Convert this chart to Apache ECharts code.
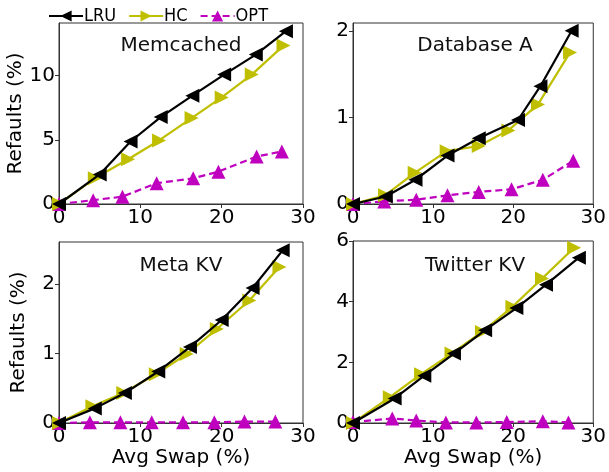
<!DOCTYPE html>
<html><head><meta charset="utf-8">
<script src="https://cdn.jsdelivr.net/npm/echarts@6/dist/echarts.min.js"></script>
<style>html,body{margin:0;padding:0;background:#fff}#c{width:609px;height:472px}</style>
</head><body><div id="c"></div>
<script>
const panels = ["Memcached", "Database A", "Meta KV", "Twitter KV"];
const seriesNames = ["LRU", "HC", "OPT"];
const xTicks = [0, 10, 20, 30];

// Memcached
const memLRU = [[0,0],[5.0,2.3],[8.8,4.87],[12.5,6.77],[16.4,8.44],[20.3,10.08],[24.2,11.64],[27.9,13.46]];
const memHC  = [[0,0],[4.4,2.0],[8.5,3.49],[12.3,4.95],[16.3,6.69],[20.0,8.3],[23.7,10.08],[27.6,12.34]];
const memOPT = [[0,0],[4.2,0.3],[7.8,0.57],[12.0,1.62],[16.5,2.0],[19.6,2.52],[24.3,3.7],[27.4,4.09]];
// Database A
const dbLRU = [[0,0],[4.1,0.087],[7.8,0.28],[11.8,0.56],[15.7,0.76],[20.6,0.97],[23.4,1.36],[27.3,2.0]];
const dbHC  = [[0,0],[4.0,0.1],[7.7,0.36],[11.7,0.61],[15.7,0.67],[19.4,0.85],[23.1,1.15],[27.1,1.75]];
const dbOPT = [[0,0],[3.9,0.03],[7.9,0.05],[11.8,0.1],[15.7,0.14],[19.8,0.17],[23.7,0.28],[27.5,0.5]];
// Meta KV
const metaLRU = [[0,0],[4.4,0.21],[8.1,0.43],[12.2,0.74],[16.1,1.09],[20.0,1.48],[23.8,1.94],[27.5,2.48]];
const metaHC  = [[0,0],[4.1,0.24],[7.9,0.43],[11.9,0.70],[15.7,0.99],[19.4,1.35],[23.4,1.76],[27.1,2.24]];
const metaOPT = [[0,0],[3.8,0.01],[7.55,0.01],[11.4,0.01],[15.25,0.01],[19.1,0.01],[22.8,0.02],[26.6,0.02]];
// Twitter KV
const twLRU = [[0,0],[5.2,0.81],[8.9,1.56],[12.6,2.29],[16.5,3.06],[20.4,3.79],[24.1,4.56],[28.2,5.45]];
const twHC  = [[0,0],[4.6,0.85],[8.5,1.61],[12.3,2.29],[16.1,3.0],[19.9,3.83],[23.6,4.76],[27.6,5.78]];
const twOPT = [[0,0.03],[4.9,0.15],[7.9,0.08],[11.6,0.02],[15.4,0.02],[19.2,0.03],[23.7,0.06],[26.9,0.02]];

const yMax = [14.1, 2.09, 2.6, 6.0];
const yInterval = [5, 1, 1, 2];
const allData = [[memLRU,memHC,memOPT],[dbLRU,dbHC,dbOPT],[metaLRU,metaHC,metaOPT],[twLRU,twHC,twOPT]];

const grids = [
  {left:59, top:23, width:244, height:181},
  {left:353, top:23, width:244, height:181},
  {left:59, top:242, width:244, height:181},
  {left:353, top:241, width:244, height:182}
];
const titlePos = [[181,48],[475,48],[181,268],[475,268]];
const font = 'DejaVu Sans';
const styles = [
  {color:'#000000', rot:90, dash:'solid'},
  {color:'#bfbf00', rot:-90, dash:'solid'},
  {color:'#bf00bf', rot:0, dash:[7,4]}
];

const xAxes = [], yAxes = [], series = [], titles = [];
for (let i = 0; i < 4; i++) {
  const bottomRow = i >= 2, leftCol = i % 2 === 0;
  xAxes.push({
    type:'value', gridIndex:i, min:0, max:30, interval:10,
    name: bottomRow ? 'Avg Swap (%)' : '', nameLocation:'middle', nameGap:24,
    nameTextStyle:{fontFamily:font, fontSize:20, color:'#000'},
    axisLine:{show:true, onZero:false, lineStyle:{color:'#333', width:1}},
    axisTick:{show:true, length:4, lineStyle:{color:'#333'}},
    axisLabel:{fontFamily:font, fontSize:20, color:'#000', margin:4, showMaxLabel:true, showMinLabel:true},
    splitLine:{show:false}
  });
  yAxes.push({
    type:'value', gridIndex:i, min:0, max:yMax[i], interval:yInterval[i],
    name: leftCol ? 'Refaults (%)' : '', nameLocation:'middle', nameGap:30,
    nameTextStyle:{fontFamily:font, fontSize:20, color:'#000'},
    axisLine:{show:true, onZero:false, lineStyle:{color:'#333', width:1}},
    axisTick:{show:true, length:4, lineStyle:{color:'#333'}},
    axisLabel:{fontFamily:font, fontSize:20, color:'#000', margin:4,
      showMaxLabel: (yMax[i] % yInterval[i] === 0), showMinLabel:true},
    splitLine:{show:false}
  });
  titles.push({
    text: panels[i], left: titlePos[i][0], top: titlePos[i][1] - 12, textAlign:'center',
    textStyle:{fontFamily:font, fontSize:20, fontWeight:'normal', color:'#111'}, padding:0
  });
  for (let s = 0; s < 3; s++) {
    series.push({
      type:'line', name: seriesNames[s], xAxisIndex:i, yAxisIndex:i,
      data: allData[i][s],
      symbol:'triangle', symbolSize:14, symbolRotate: styles[s].rot,
      showAllSymbol:true,
      lineStyle:{color:styles[s].color, width:2.2, type:styles[s].dash},
      itemStyle:{color:styles[s].color},
      z: 3 + (2 - s), animation:false
    });
  }
}

const chart = echarts.init(document.getElementById('c'));
chart.setOption({
  animation:false,
  backgroundColor:'#fff',
  title: titles,
  legend:{
    data: seriesNames, left:43, top:2, itemWidth:34, itemHeight:14, itemGap:12,
    textStyle:{fontFamily:'DejaVu Sans Condensed', fontSize:18, color:'#000', padding:[0,0,0,-4]},
    selectedMode:false
  },
  grid: grids.map(g => Object.assign({show:true, borderColor:'#333', borderWidth:1, containLabel:false}, g)),
  xAxis: xAxes,
  yAxis: yAxes,
  series: series
});
</script></body></html>
